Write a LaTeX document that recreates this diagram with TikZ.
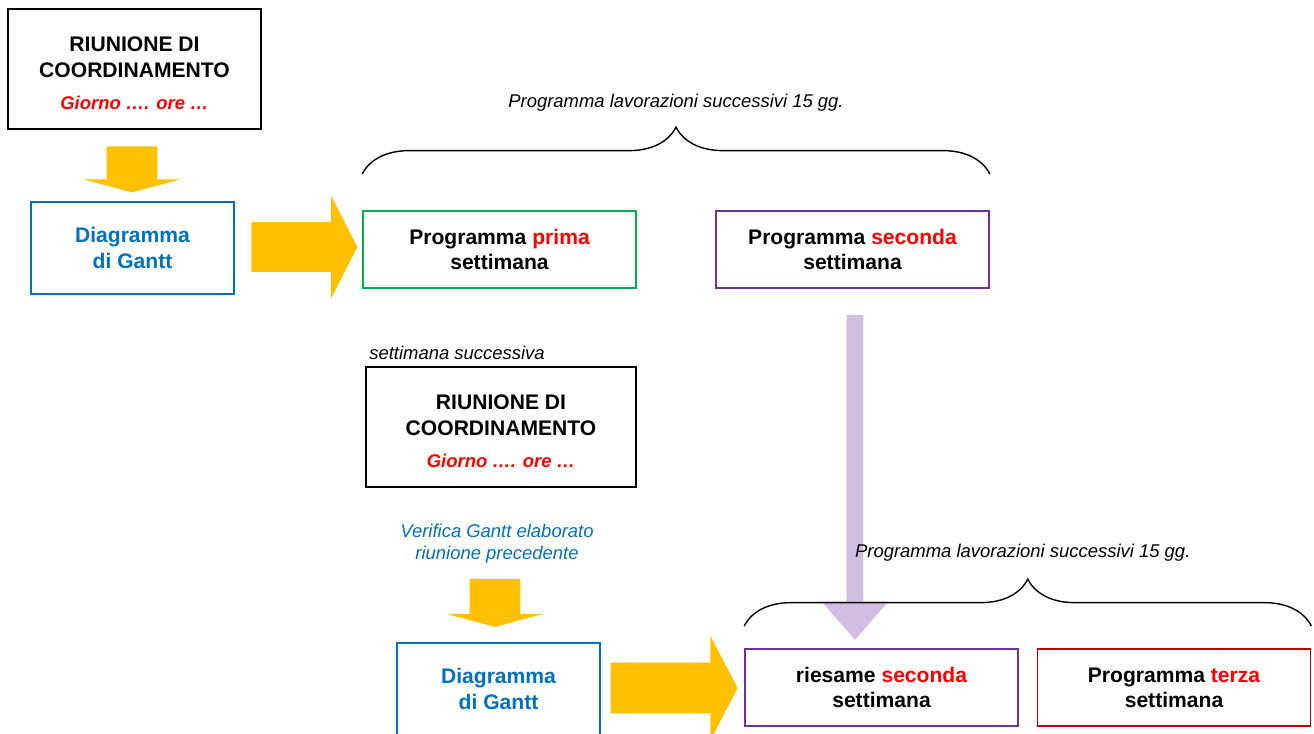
\documentclass[tikz,border=0pt]{standalone}
\usepackage{fontspec}
\setmainfont{Liberation Sans}
\usetikzlibrary{shapes.arrows, decorations.pathreplacing, positioning, calc}

\definecolor{blugantt}{RGB}{0,112,192}
\definecolor{giallo}{RGB}{255,192,0}
\definecolor{lilla}{RGB}{209,189,226}
\definecolor{verde}{RGB}{0,176,80}
\definecolor{viola}{RGB}{112,48,160}
\definecolor{rosso}{RGB}{192,0,0}

\newcommand{\giornofont}{\fontsize{10.5}{12}\selectfont\bfseries\itshape\color{red}}

\begin{document}
\begin{tikzpicture}[
    box/.style={draw, line width=1pt, minimum width=5.46cm, minimum height=1.54cm, inner sep=0pt, align=center, font=\fontsize{12}{14.3}\selectfont\bfseries},
    riun/.style={box, draw=black, line width=1.2pt, minimum width=5.06cm, minimum height=2.4cm},
    gantt/.style={box, draw=blugantt, text=blugantt, line width=1.2pt, minimum width=4.06cm, minimum height=1.84cm},
    nota/.style={font=\fontsize{10.5}{12.5}\selectfont\itshape, align=center},
    ydown/.style={single arrow, fill=giallo, inner xsep=0pt, inner ysep=0.5cm, rotate=-90, single arrow head extend=0.47cm, single arrow tip angle=150},
    yright/.style={single arrow, fill=giallo, inner xsep=0pt, inner ysep=0.5cm, single arrow tip angle=126},
    graffa/.style={decorate, decoration={brace, amplitude=0.94cm}, line width=0.8pt}
]
    \clip (0,0) rectangle (26.28,-14.66);

    % prima riunione
    \node[riun] (riun1) at (2.69,-1.38) {\\[-1pt]RIUNIONE DI\\COORDINAMENTO\\[4pt]{\giornofont Giorno …. ore …}};
    \node[gantt] (gantt1) at (2.65,-4.96) {Diagramma\\di Gantt};
    \node[box, draw=verde] (prima) at (9.99,-4.99) {Programma {\color{red}prima}\\settimana};
    \node[box, draw=viola] (seconda) at (17.05,-4.99) {Programma {\color{red}seconda}\\settimana};

    % settimana dopo
    \node[riun, minimum width=5.4cm] (riun2) at (10.02,-8.54) {\\[-1pt]RIUNIONE DI\\COORDINAMENTO\\[4pt]{\giornofont Giorno …. ore …}};
    \node[nota, anchor=south west, inner sep=0pt] (succ) at (7.38,-7.2) {settimana successiva};
    \node[nota, text=blugantt] (verifica) at (9.94,-10.88) {Verifica Gantt elaborato\\riunione precedente};
    \node[gantt] (gantt2) at (9.97,-13.78) {Diagramma\\di Gantt};
    \node[box, draw=viola] (riesame) at (17.63,-13.75) {riesame {\color{red}seconda}\\settimana};
    \node[box, draw=rosso] (terza) at (23.48,-13.75) {Programma {\color{red}terza}\\settimana};

    % frecce gialle
    \node[ydown, minimum height=0.92cm] (f1) at (2.64,-3.32) {};
    \node[yright, minimum height=2.12cm, inner ysep=0.49cm, single arrow head extend=0.53cm] (f2) at (5.96,-4.94) {};
    \node[ydown, minimum height=0.96cm, single arrow head extend=0.46cm] (f3) at (9.9,-11.99) {};
    \node[yright, minimum height=2.54cm, single arrow head extend=0.54cm, single arrow tip angle=125] (f4) at (13.35,-13.76) {};

    % riesame della seconda settimana
    \node[single arrow, fill=lilla, inner xsep=0pt, inner ysep=0.16cm, rotate=-90, minimum height=6.5cm, single arrow head extend=0.5cm, single arrow tip angle=82] (f5) at (17.1,-9.45) {};

    % graffe 15 gg
    \draw[graffa] ([yshift=0.72cm]prima.north west) -- ([yshift=0.72cm]seconda.north east)
        node[nota, midway, yshift=1.42cm] {Programma lavorazioni successivi 15 gg.};
    \draw[graffa] ([yshift=0.44cm]riesame.north west) -- ([yshift=0.44cm]terza.north east)
        node[nota, midway, xshift=-0.1cm, yshift=1.46cm] {Programma lavorazioni successivi 15 gg.};
\end{tikzpicture}
\end{document}
